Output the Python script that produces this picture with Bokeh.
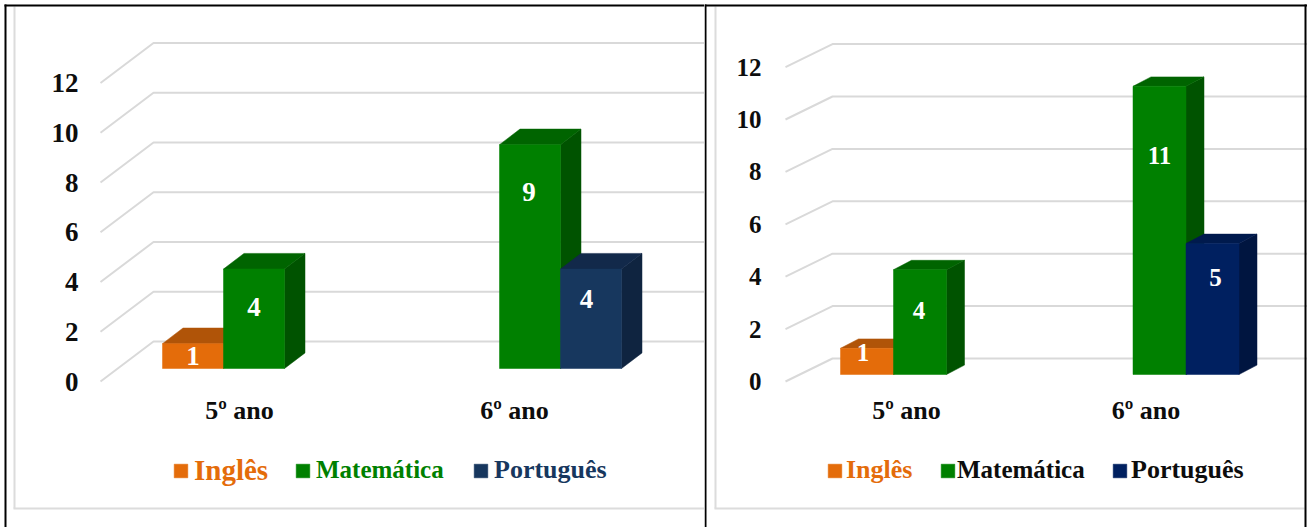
from bokeh.plotting import figure
from bokeh.layouts import row
from bokeh.models import (Range1d, FixedTicker, BoxAnnotation, Legend, LegendItem)
from bokeh.core.properties import value
from bokeh.embed import file_html
from bokeh.resources import INLINE

categories = ["5º ano", "6º ano"]
y_ticks = [0, 2, 4, 6, 8, 10, 12]
left_ingles = [1, None]
left_matematica = [4, 9]
left_portugues = [None, 4]
right_ingles = [1, None]
right_matematica = [4, 11]
right_portugues = [None, 5]

FONT = "Liberation Serif"
GRID = "#d9d9d9"
H = 527


def panel(cv_left, cv_right, axis_px, x_a, x_b, px_unit, y0_px, base_px, bar_w, dx, dy,
          grid_front, grid_back, grid_dy, cat_px, series, label_offsets, legend_spec,
          tick_standoff, font_tick, font_val, font_cat):
    W = cv_right - cv_left
    axis_y_px = 382
    sx = x_b - x_a
    X = lambda px: (px - x_a) / sx
    Y = lambda px: (y0_px - px) / px_unit
    p = figure(width=W, height=H, output_backend="svg", toolbar_location=None,
               x_range=Range1d(X(cv_left), X(cv_right)),
               y_range=Range1d(Y(H), Y(0)),
               min_border=0, min_border_left=0, min_border_right=0,
               min_border_top=0, min_border_bottom=0,
               background_fill_color="white", border_fill_color="white")
    p.outline_line_color = None
    p.grid.visible = False

    # gridlines
    back_dy = grid_dy / px_unit
    right_end = X(cv_right)
    for t in y_ticks:
        p.line([X(grid_front), X(grid_back), right_end], [t, t + back_dy, t + back_dy],
               line_color=GRID, line_width=2)

    # bars
    base = (y0_px - base_px) / px_unit
    w, ddx, ddy = bar_w / sx, dx / sx, dy / px_unit
    legend_r = {}
    for si, (name, vals, c_front, c_top, c_side) in enumerate(series):
        for ci, v in enumerate(vals):
            if v is None:
                continue
            l = ci + w * (si - 1)
            r = l + w
            tp = base + v
            p.patch([r, r + ddx, r + ddx, r], [base, base + ddy, tp + ddy, tp],
                    fill_color=c_side, line_color=c_side, line_width=0.5)
            p.patch([l, l + ddx, r + ddx, r], [tp, tp + ddy, tp + ddy, tp],
                    fill_color=c_top, line_color=c_top, line_width=0.5)
            q = p.quad(left=[l], right=[r], bottom=[base], top=[tp],
                       fill_color=c_front, line_color=c_front, line_width=0.5)
            legend_r[name] = q
            off_x, off_y = label_offsets[(si, ci)]
            p.text([(l + r) / 2], [base + v / 2], text=[str(v)], text_color="white",
                   text_font=value(FONT), text_font_style="bold", text_font_size=font_val,
                   text_align="center", text_baseline="middle",
                   x_offset=[off_x], y_offset=[off_y])

    # axes
    p.yaxis.fixed_location = X(axis_px)
    p.yaxis.ticker = FixedTicker(ticks=y_ticks)
    p.yaxis.axis_line_color = None
    p.yaxis.major_tick_line_color = None
    p.yaxis.minor_tick_line_color = None
    p.yaxis.major_label_text_font = FONT
    p.yaxis.major_label_text_font_style = "bold"
    p.yaxis.major_label_text_font_size = font_tick
    p.yaxis.major_label_text_color = "#0d0d0d"
    p.yaxis.major_label_standoff = tick_standoff

    cat_ticks = [X(c) for c in cat_px]
    p.xaxis.fixed_location = Y(axis_y_px)
    p.xaxis.ticker = FixedTicker(ticks=cat_ticks)
    p.xaxis.major_label_overrides = {t: c for t, c in zip(cat_ticks, categories)}
    p.xaxis.axis_line_color = None
    p.xaxis.major_tick_line_color = None
    p.xaxis.minor_tick_line_color = None
    p.xaxis.major_label_text_font = FONT
    p.xaxis.major_label_text_font_style = "bold"
    p.xaxis.major_label_text_font_size = font_cat
    p.xaxis.major_label_text_color = "#0d0d0d"
    p.xaxis.major_label_standoff = 7

    # legend: one per entry, text colours and spacing differ
    for (name, sw_x, col, size, standoff) in legend_spec:
        lg = Legend(items=[LegendItem(label=name, renderers=[legend_r[name]])],
                    location=(sw_x - cv_left, H - 470 - round(size * 0.58)),
                    orientation="horizontal", padding=0, margin=0, spacing=0,
                    glyph_width=17, glyph_height=17, label_standoff=standoff,
                    background_fill_alpha=0, border_line_color=None,
                    label_text_font=FONT, label_text_font_style="bold",
                    label_text_font_size=f"{size}px", label_text_color=col)
        p.add_layout(lg, "center")

    return p


def rule(p, cv_left, l, r, t, b, color):
    p.add_layout(BoxAnnotation(left=l - cv_left, right=r - cv_left, top=t, bottom=b,
                               left_units="canvas", right_units="canvas",
                               top_units="canvas", bottom_units="canvas",
                               fill_color=color, fill_alpha=1, line_color=None,
                               level="overlay"))


p1 = panel(0, 704, 85, 223, 499, 24.87, 381, 368, 61, 20.5, 15.6, 100, 153, 40,
           [239, 514],
           [("Inglês", left_ingles, "#e46c0a", "#b05408", "#a04c08"),
            ("Matemática", left_matematica, "#008000", "#006400", "#005300"),
            ("Português", left_portugues, "#17375e", "#12294a", "#0f2440")],
           {(0, 0): (0, 0), (1, 0): (0, -12), (1, 1): (-1, -65), (2, 1): (-4.5, -19.5)},
           [("Inglês", 172, "#e46c0a", 29, 5), ("Matemática", 294, "#008000", 25, 5),
            ("Português", 472, "#17375e", 26, 5)],
           1, "27px", "27px", "26px")

p2 = panel(704, 1307, 770, 893, 1132.5, 26.2, 381, 374, 53, 18, 9.4, 785, 832, 23,
           [906, 1145.5],
           [("Inglês", right_ingles, "#e46c0a", "#b05408", "#a04c08"),
            ("Matemática", right_matematica, "#008000", "#006400", "#005300"),
            ("Português", right_portugues, "#002060", "#001a4d", "#001540")],
           {(0, 0): (-4, -9), (1, 0): (-1, -11.5), (1, 1): (0, -75), (2, 1): (3, -31.5)},
           [("Inglês", 826, "#e46c0a", 26, 3), ("Matemática", 939, "#0d0d0d", 25, 1),
            ("Português", 1111, "#0d0d0d", 26, 3)],
           3, "25px", "25px", "26px")

# chart-area outlines (light grey) and page table rules (black)
rule(p1, 0, 13, 15, 6, 508, "#dcdcdc")
rule(p1, 0, 13, 704, 507, 509, "#dcdcdc")
rule(p2, 704, 714, 716, 6, 508, "#dcdcdc")
rule(p2, 704, 714, 1304, 507, 509, "#dcdcdc")
rule(p1, 0, 4, 704, 4, 6, "#000000")
rule(p1, 0, 4, 6, 4, 527, "#000000")
rule(p2, 704, 704, 706, 4, 527, "#000000")
rule(p2, 704, 704, 1307, 4, 6, "#000000")
rule(p2, 704, 1304, 1306, 4, 527, "#000000")

page = row(p1, p2, spacing=0)
open("out.html", "w").write(file_html(page, INLINE))
